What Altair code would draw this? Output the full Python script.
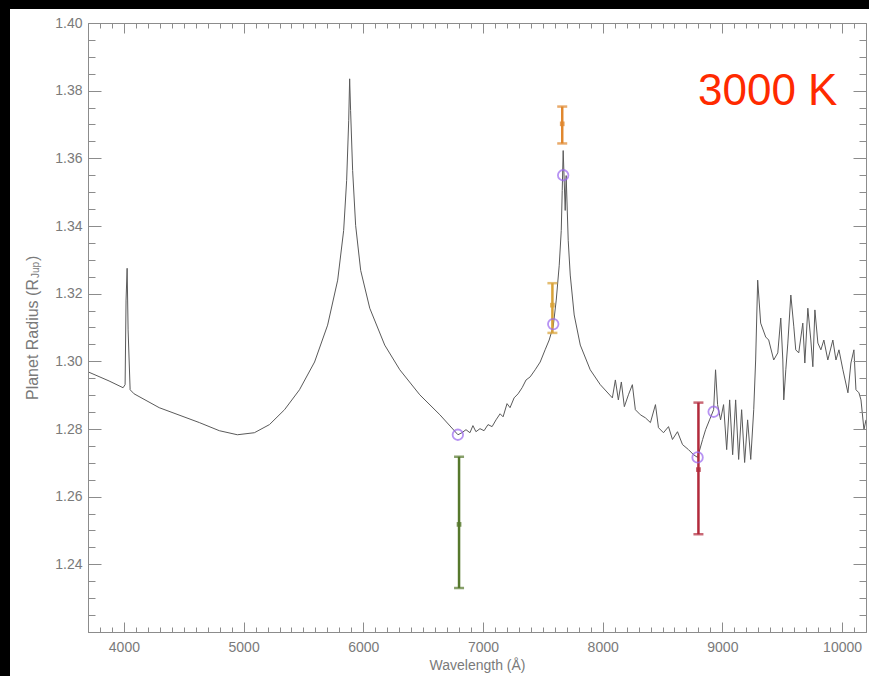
import altair as alt
import pandas as pd

# ---- model transmission spectrum: wavelength (Å) vs planet radius (R_Jup) ----
wave = [
    3700, 3876, 3993, 4010, 4018, 4027, 4035, 4052, 4085, 4295, 4630, 4797, 4948,
    5090, 5216, 5342, 5467, 5593, 5702, 5786, 5836, 5861, 5878, 5886, 5894, 5911,
    5936, 5978, 6054, 6179, 6305, 6472, 6640, 6791,
    6824, 6858, 6891, 6916, 6941, 6975, 7009, 7042, 7076, 7109, 7143, 7168, 7201,
    7226, 7260, 7293, 7327, 7360, 7394, 7436, 7478, 7519, 7553, 7587,
    7612, 7637, 7654, 7662, 7670, 7687, 7695, 7712, 7729, 7762, 7813, 7896, 7980, 8081,
    8106, 8131, 8156, 8181, 8215, 8248, 8273, 8315, 8357, 8399, 8441, 8466, 8508,
    8550, 8583, 8625, 8667, 8717, 8759, 8793, 8835, 8860, 8893, 8927, 8943, 8960,
    8985, 9010, 9036, 9061, 9086, 9111, 9136, 9161, 9186, 9211, 9237, 9262, 9278,
    9295, 9320, 9362, 9387, 9429, 9463, 9488, 9505, 9513, 9530, 9547, 9572, 9597,
    9613, 9638, 9672, 9689, 9714, 9739, 9756, 9773, 9798, 9823, 9848, 9881, 9923,
    9949, 9974, 10007, 10049, 10074, 10099, 10116, 10141, 10158, 10183, 10200,
]
radius = [
    1.2969, 1.2942, 1.2922, 1.2931, 1.3181, 1.3275, 1.3093, 1.2916, 1.2904, 1.2863, 1.2819, 1.2795, 1.2783,
    1.2789, 1.2813, 1.2857, 1.2916, 1.2998, 1.3107, 1.3240, 1.3387, 1.3535, 1.3711, 1.3835, 1.3741, 1.3564,
    1.3402, 1.3269, 1.3157, 1.3048, 1.2975, 1.2901, 1.2842, 1.2783,
    1.2789, 1.2798, 1.2789, 1.2810, 1.2792, 1.2801, 1.2795, 1.2813, 1.2807, 1.2827, 1.2845, 1.2836, 1.2875,
    1.2863, 1.2892, 1.2904, 1.2922, 1.2945, 1.2954, 1.2975, 1.2998, 1.3034, 1.3063, 1.3104,
    1.3181, 1.3284, 1.3387, 1.3505, 1.3623, 1.3446, 1.3549, 1.3358, 1.3255, 1.3137, 1.3048, 1.2975, 1.2931, 1.2892,
    1.2945, 1.2886, 1.2939, 1.2866, 1.2901, 1.2931, 1.2857, 1.2842, 1.2833, 1.2819, 1.2872, 1.2804, 1.2789,
    1.2807, 1.2769, 1.2792, 1.2754, 1.2739, 1.2724, 1.2716, 1.2769, 1.2798, 1.2827, 1.2857, 1.2975, 1.2872,
    1.2827, 1.2872, 1.2739, 1.2886, 1.2724, 1.2886, 1.2710, 1.2857, 1.2701, 1.2827, 1.2710, 1.2857, 1.3004,
    1.3240, 1.3113, 1.3072, 1.3063, 1.3004, 1.3025, 1.3128, 1.3004, 1.2886, 1.2975, 1.3054, 1.3196, 1.3102,
    1.3034, 1.3025, 1.3113, 1.2995, 1.3157, 1.3063, 1.2984, 1.3152, 1.3054, 1.3034, 1.3063, 1.3004, 1.3063,
    1.3004, 1.3034, 1.2975, 1.2907, 1.2995, 1.3034, 1.2916, 1.2907, 1.2886, 1.2798, 1.2827,
]

# band-integrated model values (open circles)
band_wave = [6790, 7587, 7670, 8793, 8927]
band_radius = [1.2783, 1.3110, 1.3550, 1.2716, 1.2851]

# measured radii with 1-sigma bounds
obs_name = ["R-band", "O2 A-band", "K I", "z-band"]
obs_wave = [6800, 7580, 7662, 8800]
obs_mid = [1.2518, 1.3166, 1.3702, 1.2680]
obs_lo = [1.2330, 1.3084, 1.3644, 1.2489]
obs_hi = [1.2718, 1.3231, 1.3753, 1.2878]
obs_colors = ["#56782c", "#d8a238", "#e0872e", "#b22a3c"]

x_major = list(range(4000, 10001, 1000))
x_minor = list(range(3700, 10201, 100))
y_major = [1.24, 1.26, 1.28, 1.30, 1.32, 1.34, 1.36, 1.38, 1.40]
y_minor = [round(1.22 + 0.005 * i, 3) for i in range(37)]

W, H = 778, 609
FONT = "Liberation Sans"
AXC = "#8c8c8c"
TXT = "#7a7a7a"

xs = alt.Scale(domain=[3700, 10200], nice=False, zero=False)
ys = alt.Scale(domain=[1.22, 1.40], nice=False, zero=False)

# labelled axes (no ticks; ticks are drawn inward by the tick-only axes below)
x_lab = alt.Axis(values=x_major, format="d", ticks=False, grid=False, domain=True,
                 domainColor=AXC, labelFont=FONT, labelFontSize=14, labelColor=TXT,
                 labelPadding=8, title="Wavelength (Å)", titleFont=FONT,
                 titleFontSize=14, titleFontWeight="normal", titleColor=TXT,
                 titlePadding=4, zindex=2)
y_lab = alt.Axis(values=y_major, format=".2f", ticks=False, grid=False, domain=True,
                 domainColor=AXC, labelFont=FONT, labelFontSize=14, labelColor=TXT,
                 labelPadding=6, title=None, zindex=2)

x_tsize = {"condition": {"test": "datum.value % 1000 === 0", "value": 10}, "value": 5}
y_tsize = {"condition": {"test": "round(datum.value * 1000) % 20 === 0", "value": 13}, "value": 7}


def x_ticks(orient):
    return alt.Axis(orient=orient, offset=-H, values=x_minor, labels=False, title=None,
                    grid=False, domain=True, domainColor=AXC, tickColor=AXC,
                    tickWidth=1, tickSize=x_tsize, zindex=2)


def y_ticks(orient):
    return alt.Axis(orient=orient, offset=-W, values=y_minor, labels=False, title=None,
                    grid=False, domain=True, domainColor=AXC, tickColor=AXC,
                    tickWidth=1, tickSize=y_tsize, zindex=2)


spec = pd.DataFrame({"w": wave, "r": radius})
bands = pd.DataFrame({"w": band_wave, "r": band_radius})
obs = pd.DataFrame({"name": obs_name, "w": obs_wave, "mid": obs_mid,
                    "lo": obs_lo, "hi": obs_hi})
caps = pd.concat([obs[["name", "w", "lo"]].rename(columns={"lo": "v"}),
                  obs[["name", "w", "hi"]].rename(columns={"hi": "v"})])

col = alt.Color("name:N", scale=alt.Scale(domain=obs_name, range=obs_colors), legend=None)

panel = alt.Chart(pd.DataFrame({"k": [0]})).mark_rect(fill="white").encode(
    x=alt.value(-78), x2=alt.value(781), y=alt.value(-14), y2=alt.value(653))

line = alt.Chart(spec).mark_line(color="#5a5a5a", strokeWidth=1, clip=True).encode(
    x=alt.X("w:Q", scale=xs, axis=x_lab),
    y=alt.Y("r:Q", scale=ys, axis=y_lab))

bars = alt.Chart(obs).mark_rule(strokeWidth=2.5).encode(
    x=alt.X("w:Q", scale=xs, axis=x_ticks("bottom")),
    y=alt.Y("lo:Q", scale=ys, axis=y_ticks("left")),
    y2="hi:Q", color=col)

cap = alt.Chart(caps).mark_tick(orient="horizontal", size=10, thickness=2.5).encode(
    x=alt.X("w:Q", scale=xs, axis=None),
    y=alt.Y("v:Q", scale=ys, axis=None), color=col)

mid = alt.Chart(obs).mark_point(shape="square", filled=True, size=22, opacity=0.8).encode(
    x=alt.X("w:Q", scale=xs, axis=None),
    y=alt.Y("mid:Q", scale=ys, axis=None), color=col)

circ = alt.Chart(bands).mark_point(shape="circle", filled=False, size=110,
                                   strokeWidth=1.8, color="#9a66ee").encode(
    x=alt.X("w:Q", scale=xs, axis=x_ticks("top")),
    y=alt.Y("r:Q", scale=ys, axis=y_ticks("right")))

temp = alt.Chart(pd.DataFrame({"t": ["3000 K"]})).mark_text(
    align="left", baseline="alphabetic", font=FONT, fontSize=44, color="#ff2a00").encode(
    x=alt.value(610), y=alt.value(82), text="t:N")

ytitle_main = alt.Chart(pd.DataFrame({"t": ["Planet Radius (R"]})).mark_text(
    align="left", baseline="middle", angle=270, font=FONT, fontSize=16, color=TXT).encode(
    x=alt.value(-55), y=alt.value(377), text="t:N")
ytitle_sub = alt.Chart(pd.DataFrame({"t": ["Jup"]})).mark_text(
    align="left", baseline="middle", angle=270, font=FONT, fontSize=10, color=TXT).encode(
    x=alt.value(-52), y=alt.value(255), text="t:N")
ytitle_end = alt.Chart(pd.DataFrame({"t": [")"]})).mark_text(
    align="left", baseline="middle", angle=270, font=FONT, fontSize=16, color=TXT).encode(
    x=alt.value(-55), y=alt.value(238), text="t:N")

chart = alt.layer(
    panel, line, bars, cap, mid, circ, temp, ytitle_main, ytitle_sub, ytitle_end
).resolve_axis(x="independent", y="independent").properties(
    width=W, height=H,
    autosize=alt.AutoSizeParams(type="none"),
    padding={"left": 88, "top": 23, "right": 3, "bottom": 44},
    background="black",
).configure_view(stroke=None)

chart.save("out.html", embed_options={"renderer": "svg", "actions": False})
